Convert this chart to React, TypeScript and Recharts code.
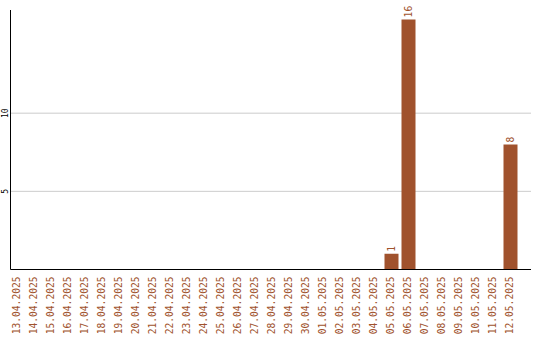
import { BarChart, Bar, XAxis, YAxis, CartesianGrid, LabelList } from "recharts";

// Daily counts, 13.04.2025 – 12.05.2025
const days = [
  "13.04.2025", "14.04.2025", "15.04.2025", "16.04.2025", "17.04.2025",
  "18.04.2025", "19.04.2025", "20.04.2025", "21.04.2025", "22.04.2025",
  "23.04.2025", "24.04.2025", "25.04.2025", "26.04.2025", "27.04.2025",
  "28.04.2025", "29.04.2025", "30.04.2025", "01.05.2025", "02.05.2025",
  "03.05.2025", "04.05.2025", "05.05.2025", "06.05.2025", "07.05.2025",
  "08.05.2025", "09.05.2025", "10.05.2025", "11.05.2025", "12.05.2025",
];
const counts = [
  0, 0, 0, 0, 0, 0, 0, 0, 0, 0,
  0, 0, 0, 0, 0, 0, 0, 0, 0, 0,
  0, 0, 1, 16, 0, 0, 0, 0, 0, 8,
];
const yTicks = [5, 10];

const BROWN = "#A0522D";
const MONO = "'DejaVu Sans Mono', monospace";

const rows = days.map((day, i) => ({ day, count: counts[i] }));

const DayTick = (props: any) => {
  const { x, y, payload } = props;
  return (
    <text
      transform={`translate(${x},${y - 1}) rotate(-90)`}
      textAnchor="end"
      dy="0.35em"
      fill={BROWN}
      fontSize={9.6}
      fontFamily={MONO}
    >
      {payload.value}
    </text>
  );
};

const CountTick = (props: any) => {
  const { y, payload } = props;
  return (
    <text
      transform={`translate(5,${y}) rotate(-90)`}
      textAnchor="middle"
      dy="0.35em"
      fill="#000"
      fontSize={8}
      fontFamily={MONO}
    >
      {payload.value}
    </text>
  );
};

const ValueLabel = (props: any) => {
  const { x, y, width, value } = props;
  if (!value) return null;
  return (
    <text
      transform={`translate(${x + width / 2},${y - 2}) rotate(-90)`}
      textAnchor="start"
      dy="0.35em"
      fill={BROWN}
      fontSize={9.6}
      fontFamily={MONO}
    >
      {value}
    </text>
  );
};

export default function App() {
  return (
    <div style={{ position: "absolute", left: 0, top: 0, background: "#fff" }}>
      <BarChart
        width={540}
        height={340}
        data={rows}
        margin={{ top: 10, right: 9, bottom: 0, left: 0.5 }}
      >
        {/* horizontal grid only at the explicit y ticks */}
        <CartesianGrid vertical={false} stroke="#cccccc" syncWithTicks />
        <XAxis
          dataKey="day"
          interval={0}
          height={70.5}
          tick={<DayTick />}
          tickLine={false}
          axisLine={{ stroke: "#000" }}
          padding={{ left: -2, right: 12.5 }}
        />
        <YAxis
          width={10}
          domain={[0, 16.6]}
          ticks={yTicks}
          tick={<CountTick />}
          tickLine={false}
          axisLine={{ stroke: "#000" }}
          allowDataOverflow
        />
        <Bar dataKey="count" fill={BROWN} barSize={14} isAnimationActive={false}>
          <LabelList dataKey="count" content={<ValueLabel />} />
        </Bar>
      </BarChart>
    </div>
  );
}
